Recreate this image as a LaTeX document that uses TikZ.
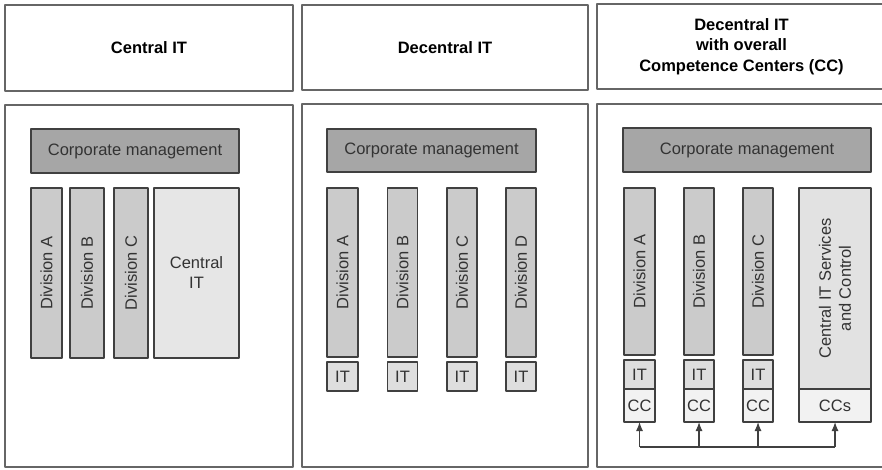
\documentclass[tikz,border=0pt]{standalone}
\usepackage{fontspec}
\setmainfont{Liberation Sans}
\usetikzlibrary{arrows.meta}
\definecolor{linegray}{HTML}{404040}
\definecolor{textgray}{HTML}{333333}
\definecolor{mgmtgray}{HTML}{A6A6A6}
\definecolor{divgray}{HTML}{CBCBCB}
\definecolor{centralgray}{HTML}{E6E6E6}
\definecolor{itgray}{HTML}{DEDEDE}
\definecolor{ccgray}{HTML}{F2F2F2}
\begin{document}
\begin{tikzpicture}[x=1pt, y=-1pt, line join=round]

% --- Global TikZ Styles ---
\tikzset{
    box/.style={
        draw=linegray,
        line width=1.2pt,
        inner sep=0pt,
        outer sep=0pt,
        align=center,
        text=textgray,
        font=\fontsize{16.5}{20}\selectfont
    },
    panel/.style={
        box,
        draw=linegray!80,
        fill=white
    },
    header/.style={
        panel,
        text=black,
        font=\fontsize{16.5}{20.5}\selectfont\bfseries
    },
    mgmtbox/.style={box, fill=mgmtgray},
    divbox/.style={box, fill=divgray, rotate=90},
    centralbox/.style={box, fill=centralgray},
    itbox/.style={box, fill=itgray},
    ccbox/.style={box, fill=ccgray},
    link/.style={draw=linegray, line width=1.2pt},
    linkarrow/.style={link, -{Latex[length=9pt,width=7pt]}}
}

\clip (0,0) rectangle (882,469);

% =========================================================================
% --- Central IT ---
% =========================================================================
\node[header, minimum width=288, minimum height=86] (headOne) at (149,48) {Central IT};
\node[panel, minimum width=288, minimum height=362] (bodyOne) at (149,286) {};

\node[mgmtbox, minimum width=208, minimum height=44] (mgmtOne) at (135,151) {Corporate management};

\node[divbox, minimum width=170, minimum height=31] (divOneA) at (46.5,273) {Division A};
\node[divbox, minimum width=170, minimum height=34] (divOneB) at (87,273) {Division B};
\node[divbox, minimum width=170, minimum height=34] (divOneC) at (131,273) {Division C};
\node[centralbox, minimum width=85, minimum height=170] (centralOne) at (196.5,273) {Central\\IT};

% =========================================================================
% --- Decentral IT ---
% =========================================================================
\node[header, minimum width=286, minimum height=85] (headTwo) at (445,47.5) {Decentral IT};
\node[panel, minimum width=286, minimum height=363] (bodyTwo) at (445,285.5) {};

\node[mgmtbox, minimum width=209, minimum height=43] (mgmtTwo) at (431.5,150.5) {Corporate management};

\node[divbox, minimum width=169, minimum height=31] (divTwoA) at (342.5,272.5) {Division A};
\node[divbox, minimum width=169, minimum height=30] (divTwoB) at (402.5,272.5) {Division B};
\node[divbox, minimum width=169, minimum height=30] (divTwoC) at (462,272.5) {Division C};
\node[divbox, minimum width=169, minimum height=30] (divTwoD) at (521,272.5) {Division D};

\node[itbox, minimum width=31, minimum height=29] (itTwoA) at (342.5,376.5) {IT};
\node[itbox, minimum width=30, minimum height=29] (itTwoB) at (402.5,376.5) {IT};
\node[itbox, minimum width=30, minimum height=29] (itTwoC) at (462,376.5) {IT};
\node[itbox, minimum width=30, minimum height=29] (itTwoD) at (521,376.5) {IT};

% =========================================================================
% --- Decentral IT with Competence Centers ---
% =========================================================================
\node[header, minimum width=296, minimum height=85] (headThree) at (745,46.5)
    {\hspace*{-7pt}Decentral IT\\\hspace*{-7pt}with overall\\\hspace*{-7pt}Competence Centers (CC)};
\node[panel, minimum width=296, minimum height=363] (bodyThree) at (745,285.5) {};

\node[mgmtbox, minimum width=248, minimum height=44] (mgmtThree) at (747,150) {Corporate management};

\node[divbox, minimum width=167, minimum height=31] (divThreeA) at (639.5,271.5) {Division A};
\node[divbox, minimum width=167, minimum height=30] (divThreeB) at (699,271.5) {Division B};
\node[divbox, minimum width=167, minimum height=30] (divThreeC) at (758,271.5) {Division C};
\node[box, fill=centralgray!85!divgray, rotate=90, minimum width=201, minimum height=72] (servThree) at (835,288.5)
    {Central IT Services\\and Control};

\node[itbox, minimum width=31, minimum height=29] (itThreeA) at (639.5,374.5) {IT};
\node[itbox, minimum width=30, minimum height=29] (itThreeB) at (699,374.5) {IT};
\node[itbox, minimum width=30, minimum height=29] (itThreeC) at (758,374.5) {IT};

\node[ccbox, minimum width=31, minimum height=33] (ccThreeA) at (639.5,405.5) {CC};
\node[ccbox, minimum width=30, minimum height=33] (ccThreeB) at (699,405.5) {CC};
\node[ccbox, minimum width=30, minimum height=33] (ccThreeC) at (758,405.5) {CC};
\node[ccbox, minimum width=72, minimum height=33] (ccsThree) at (835,405.5) {CCs};

% --- Verbindingen naar de CCs ---
\coordinate (bus) at (0,447);
\draw[link] (ccThreeA.south |- bus) -- (ccsThree.south |- bus);
\draw[linkarrow] (ccThreeA.south |- bus) -- (ccThreeA.south);
\draw[linkarrow] (ccThreeB.south |- bus) -- (ccThreeB.south);
\draw[linkarrow] (ccThreeC.south |- bus) -- (ccThreeC.south);
\draw[linkarrow] (ccsThree.south |- bus) -- (ccsThree.south);

\end{tikzpicture}
\end{document}
